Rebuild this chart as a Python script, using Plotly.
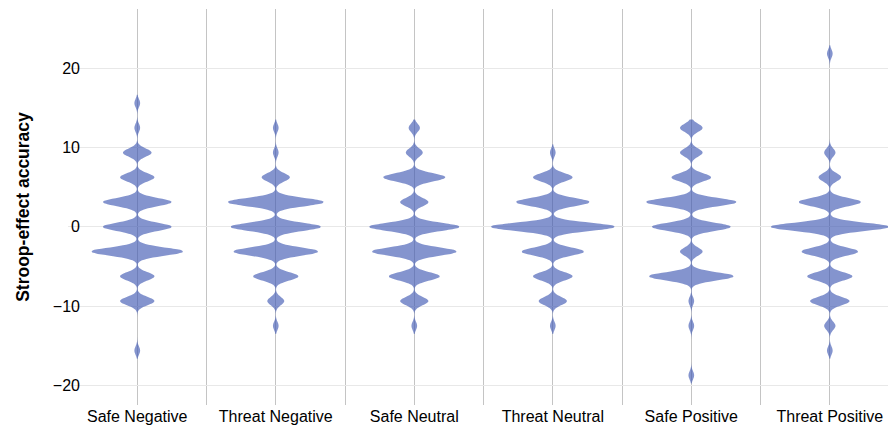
import numpy as np
import plotly.graph_objects as go

categories = ["Safe Negative", "Threat Negative", "Safe Neutral",
              "Threat Neutral", "Safe Positive", "Threat Positive"]

# Discrete Stroop-effect accuracy levels (top to bottom)
levels = [21.875, 18.75, 15.625, 12.5, 9.375, 6.25, 3.125, 0.0,
          -3.125, -6.25, -9.375, -12.5, -15.625, -18.75]

# Number of participants at each level, per condition (same order as levels)
safe_negative   = [0, 0, 1, 1, 5, 6, 12, 12, 16, 6, 6, 0, 1, 0]
threat_negative = [0, 0, 0, 1, 1, 5, 17, 16, 15, 8, 3, 1, 0, 0]
safe_neutral    = [0, 0, 0, 2, 3, 11, 5, 16, 15, 9, 5, 1, 0, 0]
threat_neutral  = [0, 0, 0, 0, 1, 7, 13, 22, 11, 7, 5, 1, 0, 0]
safe_positive   = [0, 0, 0, 4, 4, 7, 16, 14, 4, 15, 1, 1, 0, 1]
threat_positive = [1, 0, 0, 0, 2, 4, 11, 21, 10, 8, 7, 2, 1, 0]

counts = [safe_negative, threat_negative, safe_neutral,
          threat_neutral, safe_positive, threat_positive]

y_ticks = [-20, -10, 0, 10, 20]
y_tick_text = ["\u221220", "\u221210", "0", "10", "20"]

xs, ys = [], []
for i, c in enumerate(counts):
    vals = np.repeat(levels, c)
    ys.extend(vals.tolist())
    xs.extend([i] * len(vals))

# width so that the widest lobe has the desired half-width (plotly 'count' scaling)
per_count = 0.0202
maxc = [max(c) for c in counts]
ns = [sum(c) for c in counts]
maxc_all = max(maxc)
half = per_count * maxc_all
bdpos = half * max(m / n for m, n in zip(maxc, ns)) * max(ns) / maxc_all

fill = "rgba(62,88,178,0.64)"

fig = go.Figure()
fig.add_trace(go.Violin(
    x=xs, y=ys,
    bandwidth=0.52,
    scalemode="count",
    width=2 * bdpos,
    points=False,
    box_visible=False,
    meanline_visible=False,
    fillcolor=fill,
    line=dict(width=0, color=fill),
    hoverinfo="skip",
    showlegend=False,
))

fig.update_layout(
    width=888, height=426,
    margin=dict(l=68, r=0, t=9, b=21),
    paper_bgcolor="white",
    plot_bgcolor="white",
    font=dict(family="Liberation Sans, Arial, sans-serif", size=16, color="black"),
    xaxis=dict(
        range=[-0.5, 5.42],
        tickmode="array",
        tickvals=list(range(len(categories))),
        ticktext=categories,
        showgrid=True,
        gridcolor="#c4c4c4",
        gridwidth=1,
        zeroline=False,
        showline=False,
        ticks="",
        automargin=False,
        tickfont=dict(size=16),
        minor=dict(tickmode="array",
                   tickvals=[i - 0.5 for i in range(len(categories) + 1)],
                   showgrid=True, gridcolor="#c4c4c4", gridwidth=1, ticks=""),
    ),
    yaxis=dict(
        range=[-22.5, 27.5],
        tickmode="array",
        tickvals=y_ticks,
        ticktext=y_tick_text,
        showgrid=True,
        gridcolor="#e8e8e8",
        gridwidth=1,
        zeroline=False,
        showline=False,
        ticks="",
        ticklabelstandoff=-13,
        automargin=False,
        tickfont=dict(size=16),
        title=dict(text="<b>Stroop-effect accuracy</b>",
                   font=dict(size=17.5), standoff=18),
    ),
)

fig.write_html("out.html",
               config={"displayModeBar": False},
               post_script="document.body.style.margin='0';document.body.style.padding='0';")
